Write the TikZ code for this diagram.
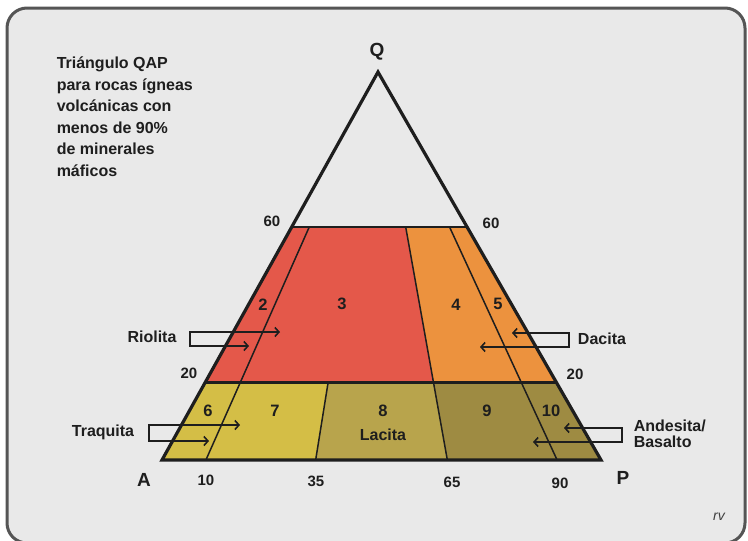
\documentclass[tikz,border=0pt]{standalone}
\usepackage{fontspec}
\setmainfont{Liberation Sans}
\usetikzlibrary{calc,arrows.meta}

\definecolor{fondo}{RGB}{233,233,233}
\definecolor{marco}{RGB}{85,85,85}
\definecolor{rojo}{RGB}{228,88,74}
\definecolor{naranja}{RGB}{236,146,62}
\definecolor{amarillo}{RGB}{212,190,70}
\definecolor{oliva}{RGB}{184,164,76}
\definecolor{olivaosc}{RGB}{158,139,66}
\definecolor{tinta}{RGB}{30,30,30}

\begin{document}
\begin{tikzpicture}[x=1pt, y=-1pt, font=\bfseries, line width=1.5pt,
    >={Straight Barb[length=4pt,width=9pt]},
    numero/.style={font=\fontsize{16.5}{18}\bfseries, text=tinta},
    escala/.style={font=\fontsize{15}{16}\bfseries, text=tinta},
    vertice/.style={font=\fontsize{19}{20}\bfseries, text=tinta},
    roca/.style={font=\fontsize{16}{18}\bfseries, text=tinta, align=left},
    flecha/.style={<->, line width=1.6pt, draw=tinta}]

    \useasboundingbox (0,0) rectangle (748,541);

    % --- Marco de fondo ---
    \draw[line width=3pt, draw=marco, fill=fondo, rounded corners=20pt] (7,8) rectangle (745,543);

    % --- Vertices del triangulo y puntos de la base ---
    \coordinate (Q) at (378,72);
    \coordinate (A) at (162,460);
    \coordinate (P) at (601,460);
    \foreach \r in {10,35,65,90}
        \coordinate (b\r) at ($(A)!0.\r!(P)$);

    % --- Campos coloreados ---
    \fill[rojo] ($(Q)!0.4!(A)$) -- ($(Q)!0.4!(b65)$) -- ($(Q)!0.8!(b65)$) -- ($(Q)!0.8!(A)$) -- cycle;
    \fill[naranja] ($(Q)!0.4!(b65)$) -- ($(Q)!0.4!(P)$) -- ($(Q)!0.8!(P)$) -- ($(Q)!0.8!(b65)$) -- cycle;
    \fill[amarillo] ($(Q)!0.8!(A)$) -- ($(Q)!0.8!(b35)$) -- (b35) -- (A) -- cycle;
    \fill[oliva] ($(Q)!0.8!(b35)$) -- ($(Q)!0.8!(b65)$) -- (b65) -- (b35) -- cycle;
    \fill[olivaosc] ($(Q)!0.8!(b65)$) -- ($(Q)!0.8!(P)$) -- (P) -- (b65) -- cycle;

    % --- Lineas de separacion ---
    \foreach \r in {10,65,90}
        \draw[tinta] ($(Q)!0.4!(b\r)$) -- (b\r);
    \draw[tinta] ($(Q)!0.8!(b35)$) -- (b35);
    \draw[tinta, line width=2.2pt] ($(Q)!0.4!(A)$) -- ($(Q)!0.4!(P)$);
    \draw[tinta, line width=2.2pt] ($(Q)!0.8!(A)$) -- ($(Q)!0.8!(P)$);

    % --- Contorno del triangulo ---
    \draw[tinta, line width=3.2pt, line join=miter] (Q) -- (A) -- (P) -- cycle;

    % --- Vertices ---
    \node[vertice] (lblQ) at (377,52) {Q};
    \node[vertice] (lblA) at (144,480) {A};
    \node[vertice] (lblP) at (623,478) {P};

    % --- Valores de los bordes ---
    % \x, \y = posicion, \t = texto
    \foreach \x / \y / \t in {272/221/60, 491/223/60, 189/373/20, 575/374/20,
                              206/480/10, 316/481/35, 452/482/65, 560/483/90}
        \node[escala] at (\x,\y) {\t};

    % --- Numeros de los campos ---
    \foreach \x / \y / \t in {263/305/2, 342/304/3, 456/305/4, 498/304/5,
                              208/411/6, 275/411/7, 383/411/8, 487/411/9, 551/411/10}
        \node[numero] (c\t) at (\x,\y) {\t};
    \node[roca] (lacita) at (383,435) {Lacita};

    % --- Nombres de rocas con sus flechas ---
    \node[roca] (riolita) at (152,337) {Riolita};
    \coordinate (rioT) at (280,332);
    \coordinate (rioB) at (249,346);
    \draw[flecha] (rioT) -- ++(-90,0) -- ++(0,14) -- (rioB);

    \node[roca] (dacita) at (602,339) {Dacita};
    \coordinate (dacT) at (512,333);
    \coordinate (dacB) at (480,347);
    \draw[flecha] (dacT) -- ++(57,0) -- ++(0,14) -- (dacB);

    \node[roca] (traquita) at (103,432) {Traquita};
    \coordinate (traT) at (240,425);
    \coordinate (traB) at (209,441);
    \draw[flecha] (traT) -- ++(-91,0) -- ++(0,16) -- (traB);

    \node[roca, anchor=west, inner sep=0pt] (andesita) at (633,434) {Andesita/\\[-2pt]Basalto};
    \coordinate (andT) at (564,428);
    \coordinate (andB) at (533,442);
    \draw[flecha] (andT) -- ++(58,0) -- ++(0,14) -- (andB);

    % --- Titulo ---
    \node[anchor=north west, inner sep=0pt, align=left, text=tinta,
          font=\fontsize{16}{21.6}\bfseries] (titulo) at (56,56)
        {Triángulo QAP\\para rocas ígneas\\volcánicas con\\menos de 90\%\\de minerales\\máficos};

    % --- Firma ---
    \node[font=\fontsize{14}{15}\itshape\mdseries, text=tinta!85] (firma) at (719,517) {rv};

\end{tikzpicture}
\end{document}
